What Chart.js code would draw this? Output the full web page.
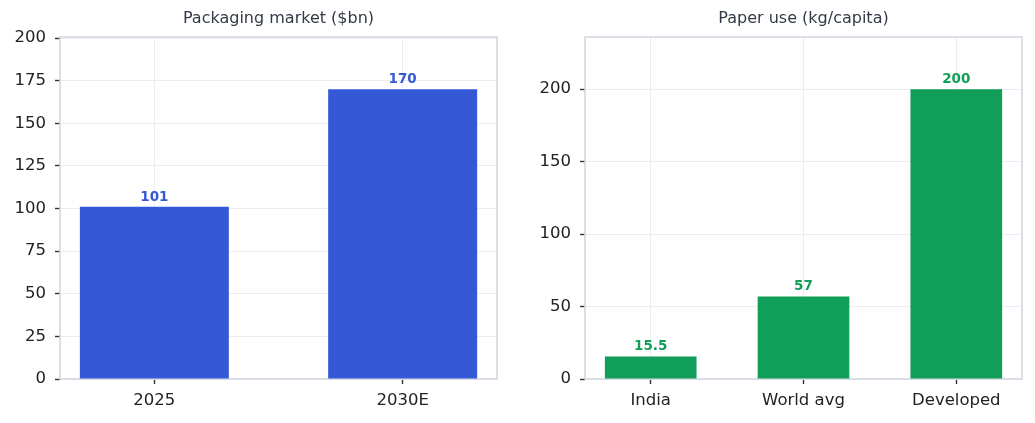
<!DOCTYPE html>
<html>
<head>
<meta charset="utf-8">
<script src="https://cdn.jsdelivr.net/npm/chart.js@4.4.1/dist/chart.umd.min.js"></script>
<style>
    html, body { margin: 0; padding: 0; background: #fff; }
    #wrap { position: relative; width: 1035px; height: 423px; }
    .box { position: absolute; top: 0; height: 423px; }
</style>
</head>
<body>
<div id="wrap">
    <div class="box" style="left:0;width:517px"><canvas id="market" width="517" height="423"></canvas></div>
    <div class="box" style="left:517px;width:518px"><canvas id="paper" width="518" height="423"></canvas></div>
</div>
<script>
// packaging market
const marketTitle = 'Packaging market ($bn)';
const marketLabels = ['2025', '2030E'];
const marketValues = [101, 170];
const marketTicks = [0, 25, 50, 75, 100, 125, 150, 175, 200];

// paper use
const paperTitle = 'Paper use (kg/capita)';
const paperLabels = ['India', 'World avg', 'Developed'];
const paperValues = [15.5, 57, 200];
const paperTicks = [0, 50, 100, 150, 200];

const FONT = "'DejaVu Sans', sans-serif";
const GRID = '#ebedf3';
const SPINE = '#cfd5e1';

// frame + title + value labels
const decor = {
    id: 'decor',
    beforeDatasetsDraw(chart) {
        const {ctx, chartArea: a} = chart;
        ctx.save();
        ctx.strokeStyle = SPINE;
        ctx.lineWidth = 1.5;
        ctx.strokeRect(a.left, a.top, a.right - a.left, a.bottom - a.top);
        ctx.restore();
    },
    afterDraw(chart, args, opts) {
        const {ctx, chartArea: a} = chart;
        ctx.save();
        ctx.font = '16px ' + FONT;
        ctx.fillStyle = '#333a46';
        ctx.textAlign = 'center';
        ctx.textBaseline = 'middle';
        ctx.fillText(opts.title, (a.left + a.right) / 2, 19);

        const ds = chart.data.datasets[0];
        ctx.font = 'bold 13.5px ' + FONT;
        ctx.fillStyle = ds.backgroundColor;
        ctx.textBaseline = 'bottom';
        chart.getDatasetMeta(0).data.forEach((bar, i) => {
            ctx.fillText(String(ds.data[i].y), bar.x, bar.y - 3);
        });
        ctx.restore();
    }
};

function makeChart(id, title, labels, values, ticks, color, yMax, yWidth, padRight) {
    const xPad = 0.3 + (labels.length - 1 + 0.6) * 0.05;
    return new Chart(document.getElementById(id), {
        type: 'bar',
        data: {
            datasets: [{
                data: values.map((v, i) => ({x: i, y: v})),
                backgroundColor: color,
                barPercentage: 0.6,
                categoryPercentage: 1
            }]
        },
        options: {
            responsive: false,
            animation: false,
            layout: {padding: {top: 37, right: padRight, left: 0, bottom: 0}},
            plugins: {
                legend: {display: false},
                tooltip: {enabled: false},
                decor: {title: title}
            },
            scales: {
                x: {
                    type: 'linear',
                    offset: false,
                    min: -xPad,
                    max: labels.length - 1 + xPad,
                    afterBuildTicks: (s) => { s.ticks = labels.map((l, i) => ({value: i})); },
                    afterFit: (s) => { s.height = 44; },
                    ticks: {
                        autoSkip: false,
                        maxRotation: 0,
                        padding: 7,
                        color: '#222',
                        font: {family: FONT, size: 16.5},
                        callback: (v) => labels[v]
                    },
                    grid: {offset: false, color: GRID, lineWidth: 1, tickColor: '#333', tickWidth: 1.4, tickLength: 5},
                    border: {display: false}
                },
                y: {
                    min: 0,
                    max: yMax,
                    afterBuildTicks: (s) => { s.ticks = ticks.map(v => ({value: v})); },
                    afterFit: (s) => { s.width = yWidth; },
                    ticks: {
                        padding: 9,
                        color: '#222',
                        font: {family: FONT, size: 16.5}
                    },
                    grid: {color: GRID, lineWidth: 1, tickColor: '#333', tickWidth: 1.4, tickLength: 5},
                    border: {display: false}
                }
            }
        },
        plugins: [decor]
    });
}

makeChart('market', marketTitle, marketLabels, marketValues, marketTicks, '#3558d6', 200.6, 60, 20);
makeChart('paper', paperTitle, paperLabels, paperValues, paperTicks, '#119e58', 236, 68, 13);
</script>
</body>
</html>
